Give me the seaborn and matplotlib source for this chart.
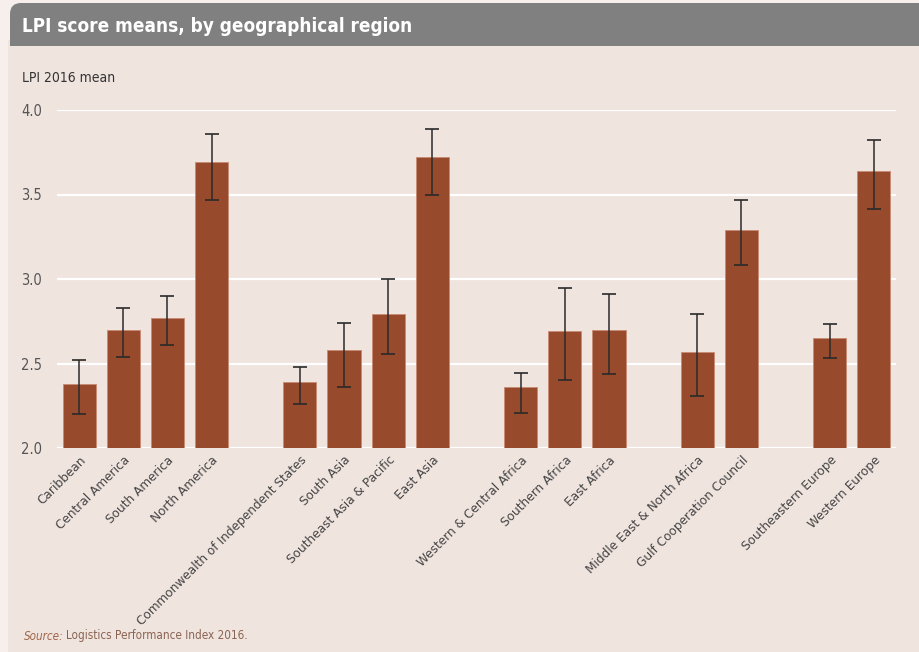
import matplotlib
matplotlib.use("Agg")
import matplotlib.pyplot as plt
import seaborn as sns
import pandas as pd
import numpy as np
from matplotlib.patches import Rectangle, FancyBboxPatch

# ---- data ----
groups = [
    ["Caribbean", "Central America", "South America", "North America"],
    ["Commonwealth of Independent States", "South Asia", "Southeast Asia & Pacific", "East Asia"],
    ["Western & Central Africa", "Southern Africa", "East Africa"],
    ["Middle East & North Africa", "Gulf Cooperation Council"],
    ["Southeastern Europe", "Western Europe"],
]
regions = [r for g in groups for r in g]
means = [2.38, 2.70, 2.77, 3.69,
         2.39, 2.58, 2.79, 3.72,
         2.36, 2.69, 2.70,
         2.57, 3.29,
         2.65, 3.64]
upper = [2.52, 2.83, 2.90, 3.86,
         2.48, 2.74, 3.00, 3.89,
         2.445, 2.945, 2.91,
         2.79, 3.465,
         2.735, 3.825]
lower = [2.20, 2.54, 2.61, 3.47,
         2.26, 2.36, 2.555, 3.50,
         2.21, 2.40, 2.44,
         2.305, 3.08,
         2.53, 3.415]
yticks = [2.0, 2.5, 3.0, 3.5, 4.0]

df = pd.DataFrame({"region": regions, "mean": means, "upper": upper, "lower": lower})

# category order with empty spacer slots between groups
order = []
for i, g in enumerate(groups):
    if i > 0:
        order.append(" " * i)
    order.extend(g)

BG = "#f0e4df"
BAR = "#974a2c"
GREY = "#808080"

sns.set_theme(style="white")
plt.rcParams["font.family"] = ["DejaVu Sans"]
plt.rcParams["font.stretch"] = "condensed"

W, H = 919, 652
fig = plt.figure(figsize=(W / 100, H / 100), dpi=100)
fig.patch.set_facecolor("#f6efec")

def fx(px):
    return px / W

def fy(py):
    return 1 - py / H

# background layer in pixel coordinates
bg = fig.add_axes([0, 0, 1, 1], zorder=-5)
bg.set_xlim(0, W)
bg.set_ylim(H, 0)
bg.axis("off")
bg.add_patch(Rectangle((8, 40), W, H, facecolor=BG, edgecolor="none"))
bg.add_patch(FancyBboxPatch((10, 3), W + 40, 43, boxstyle="round,pad=0,rounding_size=11",
                            facecolor=GREY, edgecolor="none"))
bg.add_patch(Rectangle((10, 25), W, 21, facecolor=GREY, edgecolor="none"))

ax = fig.add_axes([fx(57), fy(448), fx(896) - fx(57), fy(110) - fy(448)])
ax.set_facecolor(BG)

sns.barplot(data=df, x="region", y="mean", order=order, color=BAR, width=0.75,
            saturation=1, edgecolor="#c98a72", linewidth=0.6, ax=ax, zorder=3)

xpos = [order.index(r) for r in regions]
m = np.array(means)
yerr = np.vstack([m - np.array(lower), np.array(upper) - m])
ax.errorbar(xpos, means, yerr=yerr, fmt="none", ecolor="#2a2a2a", elinewidth=1.1,
            capsize=4.8, capthick=1.2, zorder=4)

ax.set_ylim(2.0, 4.0)
ax.set_xlim(-0.5, len(order) - 0.5)
ax.set_yticks(yticks)
ax.set_yticklabels([f"{v:.1f}" for v in yticks], color="#555555", fontsize=10.5)
ax.yaxis.grid(True, color="white", linewidth=1.6, zorder=0)
ax.set_axisbelow(True)
for s in ax.spines.values():
    s.set_visible(False)
ax.tick_params(axis="both", length=0)
ax.tick_params(axis="y", pad=11)
ax.set_xlabel("")
ax.set_ylabel("")
ax.set_xticks(range(len(order)))
ax.set_xticklabels([o if o.strip() else "" for o in order], rotation=45, ha="right",
                   rotation_mode="anchor", fontsize=9.7, color="#444444")
ax.tick_params(axis="x", pad=4)

fig.text(fx(22), fy(27), "LPI score means, by geographical region", color="white",
         fontsize=13.6, fontweight="bold", ha="left", va="center")
fig.text(fx(22), fy(78), "LPI 2016 mean", color="#333333", fontsize=10, ha="left", va="center")

t1 = fig.text(fx(24), fy(636), "Source:", color="#a0664a", fontsize=8.4, style="italic",
              ha="left", va="center")
fig.canvas.draw()
bb = t1.get_window_extent(fig.canvas.get_renderer())
fig.text(bb.x1 / W + 0.003, fy(636), "Logistics Performance Index 2016.", color="#8a6452",
         fontsize=8.4, ha="left", va="center")

fig.savefig("out.png", dpi=100, facecolor=fig.get_facecolor())
